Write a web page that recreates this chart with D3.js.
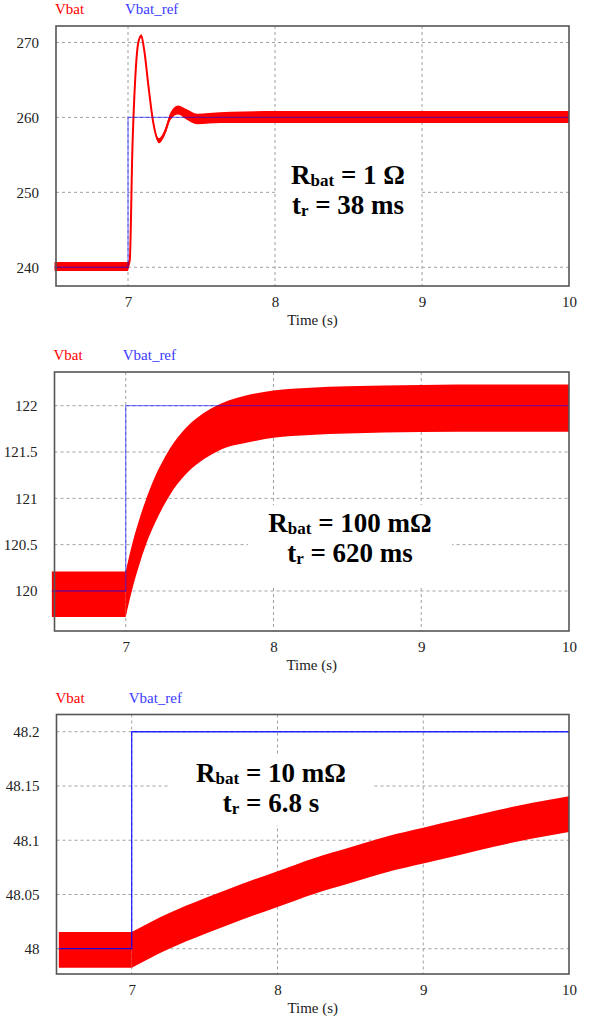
<!DOCTYPE html>
<html>
<head>
<meta charset="utf-8">
<script src="https://cdn.jsdelivr.net/npm/d3@7"></script>
<style>
  body { margin: 0; background: #fff; }
  svg { display: block; }
</style>
</head>
<body>
<div id="chart"></div>
<script>
var width = 592;
var height = 1018;

// panel 1 : Rbat = 1 ohm ------------------------------------------
var p1Time   = [6.5, 7.0, 7.012, 7.03, 7.05, 7.07, 7.09, 7.11, 7.14, 7.17, 7.21, 7.25, 7.29, 7.34, 7.4, 7.47, 7.55, 7.7, 8.0, 9.0, 10];
var p1Vbat   = [240.1, 240.1, 241, 256, 265.5, 270, 270.9, 269, 264, 259.5, 256.9, 258, 260.2, 261, 260.4, 259.8, 259.9, 260.0, 260.05, 260.05, 260.05];
var p1Ripple = [0.6, 0.6, 0.15, 0.15, 0.15, 0.2, 0.2, 0.2, 0.25, 0.3, 0.35, 0.4, 0.5, 0.6, 0.7, 0.7, 0.7, 0.75, 0.8, 0.8, 0.8];
var p1RefTime = [6.5, 7, 10];
var p1Ref     = [240, 260, 260];
var p1YTicks  = [240, 250, 260, 270];
var p1YLabels = ["240", "250", "260", "270"];

// panel 2 : Rbat = 100 mohm ---------------------------------------
var p2Time   = [6.5, 7.0, 7.025, 7.05, 7.075, 7.1, 7.15, 7.2, 7.25, 7.3, 7.4, 7.5, 7.6, 7.7, 7.8, 8.0, 8.25, 8.5, 9.0, 9.5, 10];
var p2Vbat   = [119.965, 119.965, 120.14, 120.30, 120.44, 120.57, 120.80, 120.99, 121.15, 121.29, 121.50, 121.64, 121.74, 121.81, 121.85, 121.91, 121.94, 121.955, 121.97, 121.975, 121.975];
var p2Ripple = [0.245, 0.245, 0.245, 0.245, 0.245, 0.245, 0.245, 0.25, 0.25, 0.25, 0.25, 0.25, 0.25, 0.25, 0.255, 0.255, 0.255, 0.255, 0.255, 0.255, 0.255];
var p2RefTime = [6.5, 7, 10];
var p2Ref     = [120, 122, 122];
var p2YTicks  = [120, 120.5, 121, 121.5, 122];
var p2YLabels = ["120", "120.5", "121", "121.5", "122"];

// panel 3 : Rbat = 10 mohm ----------------------------------------
var p3Time   = [6.5, 7.0, 7.25, 7.5, 7.75, 8.0, 8.25, 8.5, 8.75, 9.0, 9.25, 9.5, 9.75, 10];
var p3Vbat   = [47.999, 47.999, 48.016, 48.030, 48.043, 48.055, 48.067, 48.077, 48.087, 48.095, 48.103, 48.111, 48.118, 48.124];
var p3Ripple = [0.0165, 0.0165, 0.0165, 0.0165, 0.0165, 0.0165, 0.0165, 0.0165, 0.0165, 0.0165, 0.0165, 0.0165, 0.0165, 0.0165];
var p3RefTime = [6.5, 7, 10];
var p3Ref     = [48, 48.2, 48.2];
var p3YTicks  = [48, 48.05, 48.1, 48.15, 48.2];
var p3YLabels = ["48", "48.05", "48.1", "48.15", "48.2"];

var xTicks  = [7, 8, 9, 10];
var xLabels = ["7", "8", "9", "10"];

var legendNames = ["Vbat", "Vbat_ref"];

var serif = "'Liberation Serif', 'Times New Roman', 'DejaVu Serif', serif";
var stepTime = 7;

var svg = d3.select("#chart")
    .append("svg")
    .attr("width", width)
    .attr("height", height);

var panels = [
	{time: p1Time, vbat: p1Vbat, ripple: p1Ripple, refTime: p1RefTime, ref: p1Ref,
	 yTicks: p1YTicks, yLabels: p1YLabels,
	 left: 56, right: 569, top: 26, bottom: 286,
	 xDomain: [6.51, 10], yDomain: [237.5, 272.2],
	 refOpacity: 0.5, centerLine: 2,
	 note: {r: "1 Ω", t: "38 ms", cx: 348, y1: 184, box: [277, 156, 144, 72]}},
	{time: p2Time, vbat: p2Vbat, ripple: p2Ripple, refTime: p2RefTime, ref: p2Ref,
	 yTicks: p2YTicks, yLabels: p2YLabels,
	 left: 54.5, right: 569, top: 372, bottom: 631,
	 xDomain: [6.518, 10], yDomain: [119.568, 122.364],
	 refOpacity: 0.5, centerLine: 0,
	 note: {r: "100 mΩ", t: "620 ms", cx: 350, y1: 532, box: [248, 505, 204, 80]}},
	{time: p3Time, vbat: p3Vbat, ripple: p3Ripple, refTime: p3RefTime, ref: p3Ref,
	 yTicks: p3YTicks, yLabels: p3YLabels,
	 left: 56.5, right: 569, top: 714.5, bottom: 974,
	 xDomain: [6.484, 10], yDomain: [47.9767, 48.2159],
	 refOpacity: 0.85, centerLine: 0,
	 note: {r: "10 mΩ", t: "6.8 s", cx: 271, y1: 782, box: [170, 755, 203, 70]}}
];

panels.forEach(drawPanel);

function setFont(sel, size, bold) {
	sel.attr("font-family", serif)
		.style("font-family", serif)
		.style("font-size", size + "px")
		.style("font-weight", bold ? "bold" : "normal");
	return sel;
}

function drawPanel(p) {
	var g = svg.append("g");

	var x = d3.scaleLinear().domain(p.xDomain).range([p.left, p.right]);
	var y = d3.scaleLinear().domain(p.yDomain).range([p.bottom, p.top]);

	// grid
	g.selectAll(".hgrid")
		.data(p.yTicks)
		.enter()
		.append("line")
			.attr("x1", p.left)
			.attr("x2", p.right)
			.attr("y1", function(d) { return y(d); })
			.attr("y2", function(d) { return y(d); })
			.attr("stroke", "#a0a0a0")
			.attr("stroke-width", 1)
			.attr("stroke-dasharray", "3,3");

	g.selectAll(".vgrid")
		.data(xTicks.slice(0, 3))
		.enter()
		.append("line")
			.attr("x1", function(d) { return x(d); })
			.attr("x2", function(d) { return x(d); })
			.attr("y1", p.top)
			.attr("y2", p.bottom)
			.attr("stroke", "#a0a0a0")
			.attr("stroke-width", 1)
			.attr("stroke-dasharray", "3,3");

	// white box behind the annotation
	g.append("rect")
		.attr("x", p.note.box[0])
		.attr("y", p.note.box[1])
		.attr("width", p.note.box[2])
		.attr("height", p.note.box[3])
		.attr("fill", "#fff");

	var rows = p.time.map(function(t, i) {
		return {t: t, v: p.vbat[i], r: p.ripple[i]};
	});
	var before = rows.filter(function(d) { return d.t <= stepTime; });
	var after = rows.filter(function(d) { return d.t >= stepTime; });

	// ripple band of Vbat (sharp corner at the step)
	var bandFlat = d3.area()
		.x(function(d) { return x(d.t); })
		.y0(function(d) { return y(d.v - d.r); })
		.y1(function(d) { return y(d.v + d.r); });
	var bandCurve = d3.area()
		.curve(d3.curveMonotoneX)
		.x(function(d) { return x(d.t); })
		.y0(function(d) { return y(d.v - d.r); })
		.y1(function(d) { return y(d.v + d.r); });

	g.append("path")
		.datum(before)
		.attr("d", bandFlat)
		.attr("fill", "#ff0000");
	g.append("path")
		.datum(after)
		.attr("d", bandCurve)
		.attr("fill", "#ff0000");

	if (p.centerLine > 0) {
		var mid = d3.line()
			.curve(d3.curveMonotoneX)
			.x(function(d) { return x(d.t); })
			.y(function(d) { return y(d.v); });
		g.append("path")
			.datum(after)
			.attr("d", mid)
			.attr("fill", "none")
			.attr("stroke", "#ff0000")
			.attr("stroke-width", p.centerLine);
	}

	// reference step
	var refRows = p.refTime.map(function(t, i) { return {t: t, v: p.ref[i]}; });
	var step = d3.line()
		.curve(d3.curveStepAfter)
		.x(function(d) { return x(d.t); })
		.y(function(d) { return y(d.v); });

	g.append("path")
		.datum(refRows)
		.attr("d", step)
		.attr("fill", "none")
		.attr("stroke", "#0000ff")
		.attr("stroke-opacity", p.refOpacity)
		.attr("stroke-width", 1.3);

	// frame
	g.append("rect")
		.attr("x", p.left)
		.attr("y", p.top)
		.attr("width", p.right - p.left)
		.attr("height", p.bottom - p.top)
		.attr("fill", "none")
		.attr("stroke", "#555")
		.attr("stroke-width", 1.6);

	// axes
	var yAxis = d3.axisLeft(y)
		.tickValues(p.yTicks)
		.tickFormat(function(d, i) { return p.yLabels[i]; })
		.tickSize(0)
		.tickPadding(17);

	var xAxis = d3.axisBottom(x)
		.tickValues(xTicks)
		.tickFormat(function(d, i) { return xLabels[i]; })
		.tickSize(0)
		.tickPadding(10.4);

	var ya = g.append("g")
		.attr("transform", "translate(" + p.left + ",0)")
		.call(yAxis);
	var xa = g.append("g")
		.attr("transform", "translate(0," + p.bottom + ")")
		.call(xAxis);

	[ya, xa].forEach(function(a) {
		a.attr("font-family", serif).attr("font-size", 15);
		a.select(".domain").remove();
		setFont(a.selectAll("text"), 15, false).attr("fill", "#222");
	});

	setFont(g.append("text"), 15, false)
		.attr("x", (p.left + p.right) / 2)
		.attr("y", p.bottom + 38.5)
		.attr("text-anchor", "middle")
		.attr("fill", "#222")
		.text("Time (s)");

	// legend
	setFont(g.selectAll(".legend")
		.data(legendNames)
		.enter()
		.append("text"), 15, false)
			.attr("x", function(d, i) { return i === 0 ? p.left - 1 : x(stepTime) - 3; })
			.attr("y", p.top - 12)
			.attr("fill", function(d, i) { return i === 0 ? "#ff0000" : "#3a3aff"; })
			.text(function(d) { return d; });

	// annotation
	var l1 = setFont(g.append("text"), 27, true)
		.attr("x", p.note.cx)
		.attr("y", p.note.y1)
		.attr("text-anchor", "middle")
		.attr("fill", "#000");
	l1.append("tspan").text("R");
	l1.append("tspan").attr("dy", 2).style("font-size", "17px").text("bat");
	l1.append("tspan").attr("dy", -2).text(" = " + p.note.r);

	var l2 = setFont(g.append("text"), 27, true)
		.attr("x", p.note.cx)
		.attr("y", p.note.y1 + 30)
		.attr("text-anchor", "middle")
		.attr("fill", "#000");
	l2.append("tspan").text("t");
	l2.append("tspan").attr("dy", 2).style("font-size", "17px").text("r");
	l2.append("tspan").attr("dy", -2).text(" = " + p.note.t);
}
</script>
</body>
</html>
